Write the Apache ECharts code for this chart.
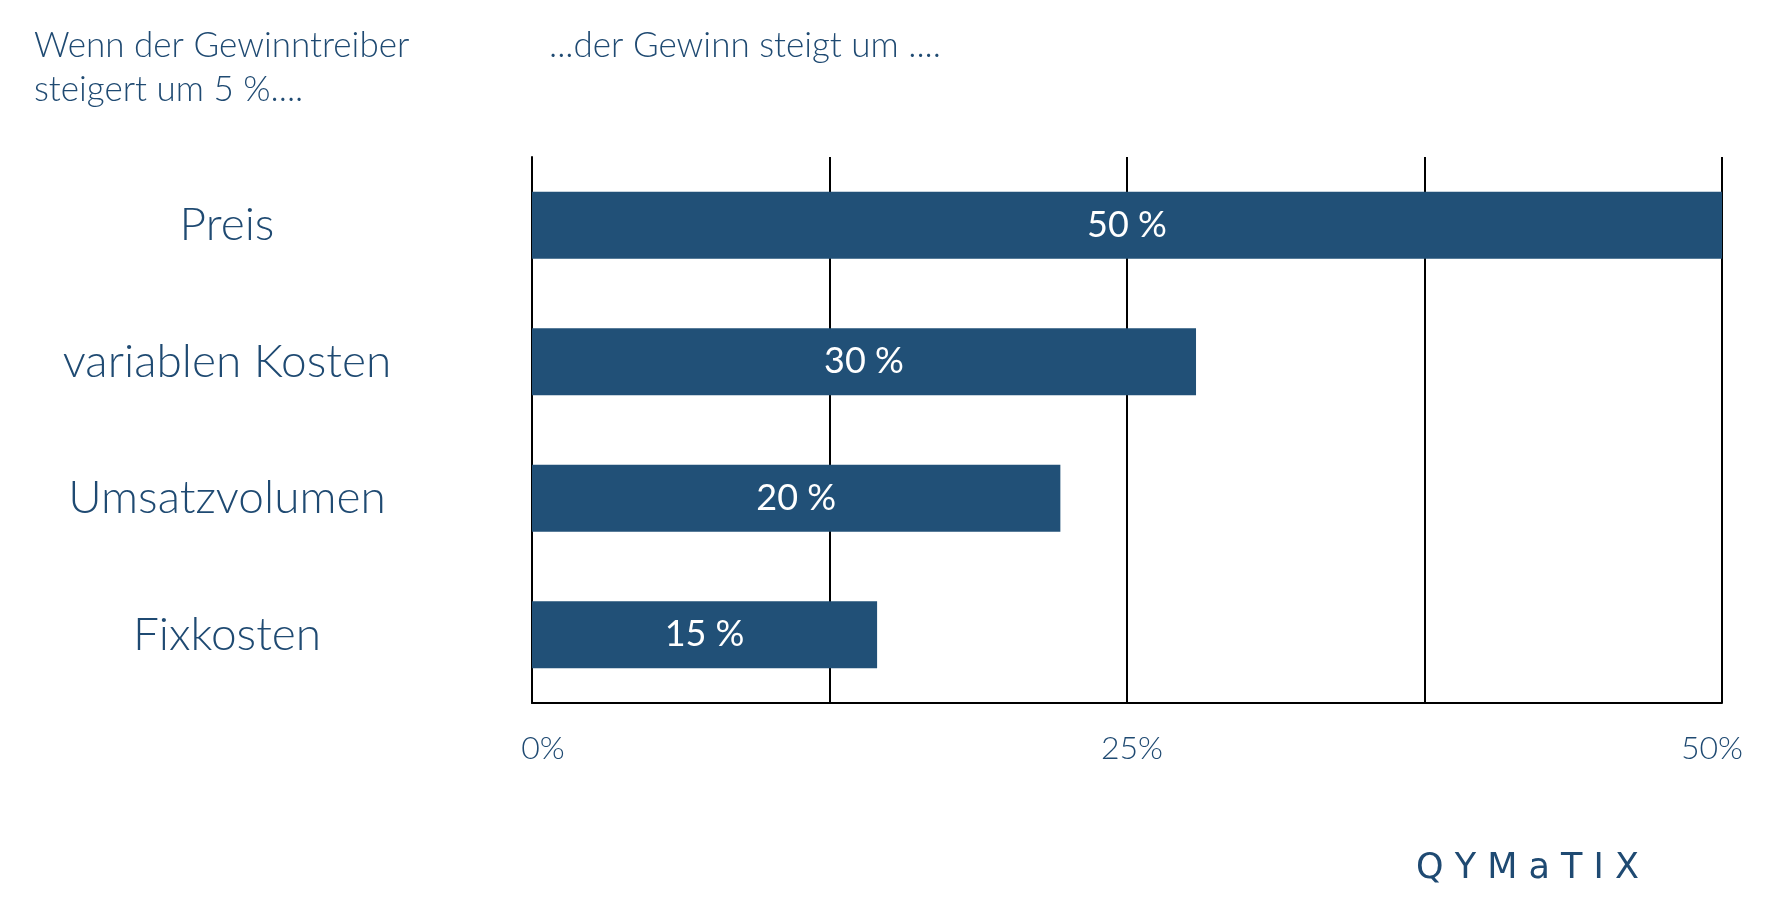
<!DOCTYPE html>
<html>
<head>
<meta charset="utf-8">
<script src="https://cdn.jsdelivr.net/npm/echarts@6/dist/echarts.min.js"></script>
<style>
html,body{margin:0;padding:0;background:#fff;}
#chart{width:1780px;height:914px;}
</style>
</head>
<body>
<div id="chart"></div>
<script>
// Data
const categories = ["Preis", "variablen Kosten", "Umsatzvolumen", "Fixkosten"];
const barValues = [50, 27.9, 22.2, 14.5];
const barLabels = ["50 %", "30 %", "20 %", "15 %"];
const tickLabels = {0: "0%", 25: "25%", 50: "50%"};
const titleLeft = "Wenn der Gewinntreiber\nsteigert um 5 %....";
const titleRight = "...der Gewinn steigt um ....";
const logoText = "Q Y M a T I X";

const FONT = "Lato";
const TEXT = "#1f4a72";
const BAR = "#215077";

const chart = echarts.init(document.getElementById('chart'));
chart.setOption({
  backgroundColor: '#ffffff',
  animation: false,
  grid: { left: 532, right: 58, top: 157, bottom: 211 },
  xAxis: {
    type: 'value',
    min: 0, max: 50, interval: 12.5,
    axisLine: { show: true, lineStyle: { color: '#000', width: 2 } },
    axisTick: { show: false },
    splitLine: { show: true, lineStyle: { color: '#000', width: 2 } },
    axisLabel: {
      margin: 30,
      fontFamily: FONT, fontWeight: 300, fontSize: 32, color: TEXT,
      formatter: function (v) {
        const t = tickLabels[v];
        if (t === undefined) return '';
        if (v === 0) return '{l|' + t + '}';
        if (v === 50) return '{r|' + t + '}';
        return '{m|' + t + '}';
      },
      rich: {
        l: { fontFamily: FONT, fontWeight: 300, fontSize: 32, color: TEXT, padding: [0, 0, 0, 22] },
        m: { fontFamily: FONT, fontWeight: 300, fontSize: 32, color: TEXT, padding: [0, 0, 0, 10] },
        r: { fontFamily: FONT, fontWeight: 300, fontSize: 32, color: TEXT, padding: [0, 20, 0, 0] }
      }
    }
  },
  yAxis: {
    type: 'category',
    inverse: true,
    data: categories,
    axisLine: { show: true, lineStyle: { color: '#000', width: 2 } },
    axisTick: { show: false },
    splitLine: { show: false },
    axisLabel: {
      align: 'center',
      margin: 305,
      fontFamily: FONT, fontWeight: 300, fontSize: 46, color: TEXT
    }
  },
  series: [{
    type: 'bar',
    data: barValues,
    barWidth: 67,
    itemStyle: { color: BAR },
    label: {
      show: true,
      position: 'inside',
      fontFamily: FONT, fontWeight: 'normal', fontSize: 36, color: '#ffffff',
      formatter: function (p) { return barLabels[p.dataIndex]; }
    }
  }],
  graphic: [
    { type: 'text', left: 34, top: 24,
      style: { text: titleLeft, fontFamily: FONT, fontWeight: 300, fontSize: 35, lineHeight: 44, fill: TEXT } },
    { type: 'text', left: 549, top: 24,
      style: { text: titleRight, fontFamily: FONT, fontWeight: 300, fontSize: 35, lineHeight: 44, fill: TEXT } },
    { type: 'text', left: 1416, top: 851,
      style: { text: logoText, fontFamily: 'DejaVu Sans', fontWeight: 'normal', fontSize: 35, fill: '#1f4a72' } }
  ]
});
</script>
</body>
</html>
